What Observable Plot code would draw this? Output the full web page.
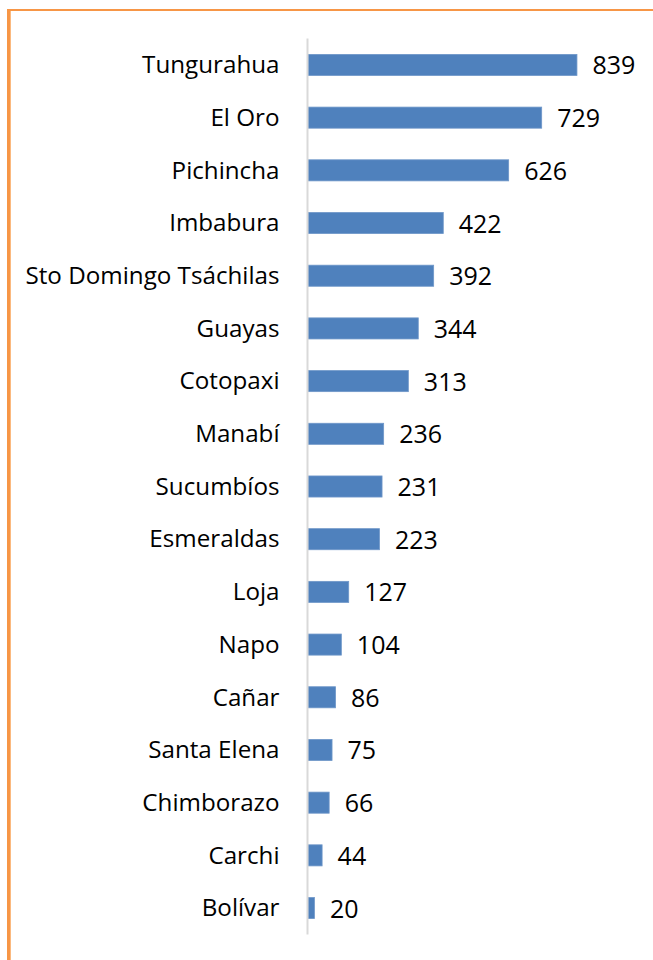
<!DOCTYPE html>
<html>
<head>
<meta charset="utf-8">
<script src="https://cdn.jsdelivr.net/npm/d3@7"></script>
<script src="https://cdn.jsdelivr.net/npm/@observablehq/plot@0.6"></script>
<style>
  html, body { margin: 0; padding: 0; background: #fff; }
  #wrap { position: relative; width: 653px; height: 960px; overflow: hidden; }
  #frame { position: absolute; left: 7px; top: 9px; right: 0; bottom: -10px;
           border-left: 3px solid #f79646; border-top: 2px solid #f79646;
           box-shadow: inset 1px 0 0 #fbb97f; pointer-events: none; }
  svg { display: block; }
</style>
</head>
<body>
<div id="wrap"><div id="frame"></div></div>
<script>
const provinces = ["Tungurahua", "El Oro", "Pichincha", "Imbabura", "Sto Domingo Tsáchilas",
  "Guayas", "Cotopaxi", "Manabí", "Sucumbíos", "Esmeraldas", "Loja", "Napo", "Cañar",
  "Santa Elena", "Chimborazo", "Carchi", "Bolívar"];
const counts = [839, 729, 626, 422, 392, 344, 313, 236, 231, 223, 127, 104, 86, 75, 66, 44, 20];

const data = provinces.map((p, i) => ({province: p, value: counts[i]}));

const chart = Plot.plot({
  width: 653,
  height: 960,
  marginLeft: 308,
  marginRight: 56.5,
  marginTop: 38.6,
  marginBottom: 25.6,
  style: {fontFamily: "'Open Sans', sans-serif", color: "#000", background: "transparent"},
  x: {domain: [0, 900], axis: null},
  y: {domain: provinces, paddingInner: 0.6, paddingOuter: 0.3, round: false, label: null},
  marks: [
    Plot.barX(data, {y: "province", x: "value", fill: "#4f81bd", stroke: "#6f97c9", strokeWidth: 0.8}),
    Plot.ruleX([0], {stroke: "#d9d9d9", strokeWidth: 2, dx: -1}),
    Plot.axisY({tickSize: 0, tickPadding: 29, fontSize: 24.2, fill: "#000", label: null}),
    Plot.text(data, {y: "province", x: "value", text: d => String(d.value), textAnchor: "start",
      dx: 15, dy: 1, fontSize: 25, fill: "#000"})
  ]
});
document.getElementById("wrap").prepend(chart);
</script>
</body>
</html>
